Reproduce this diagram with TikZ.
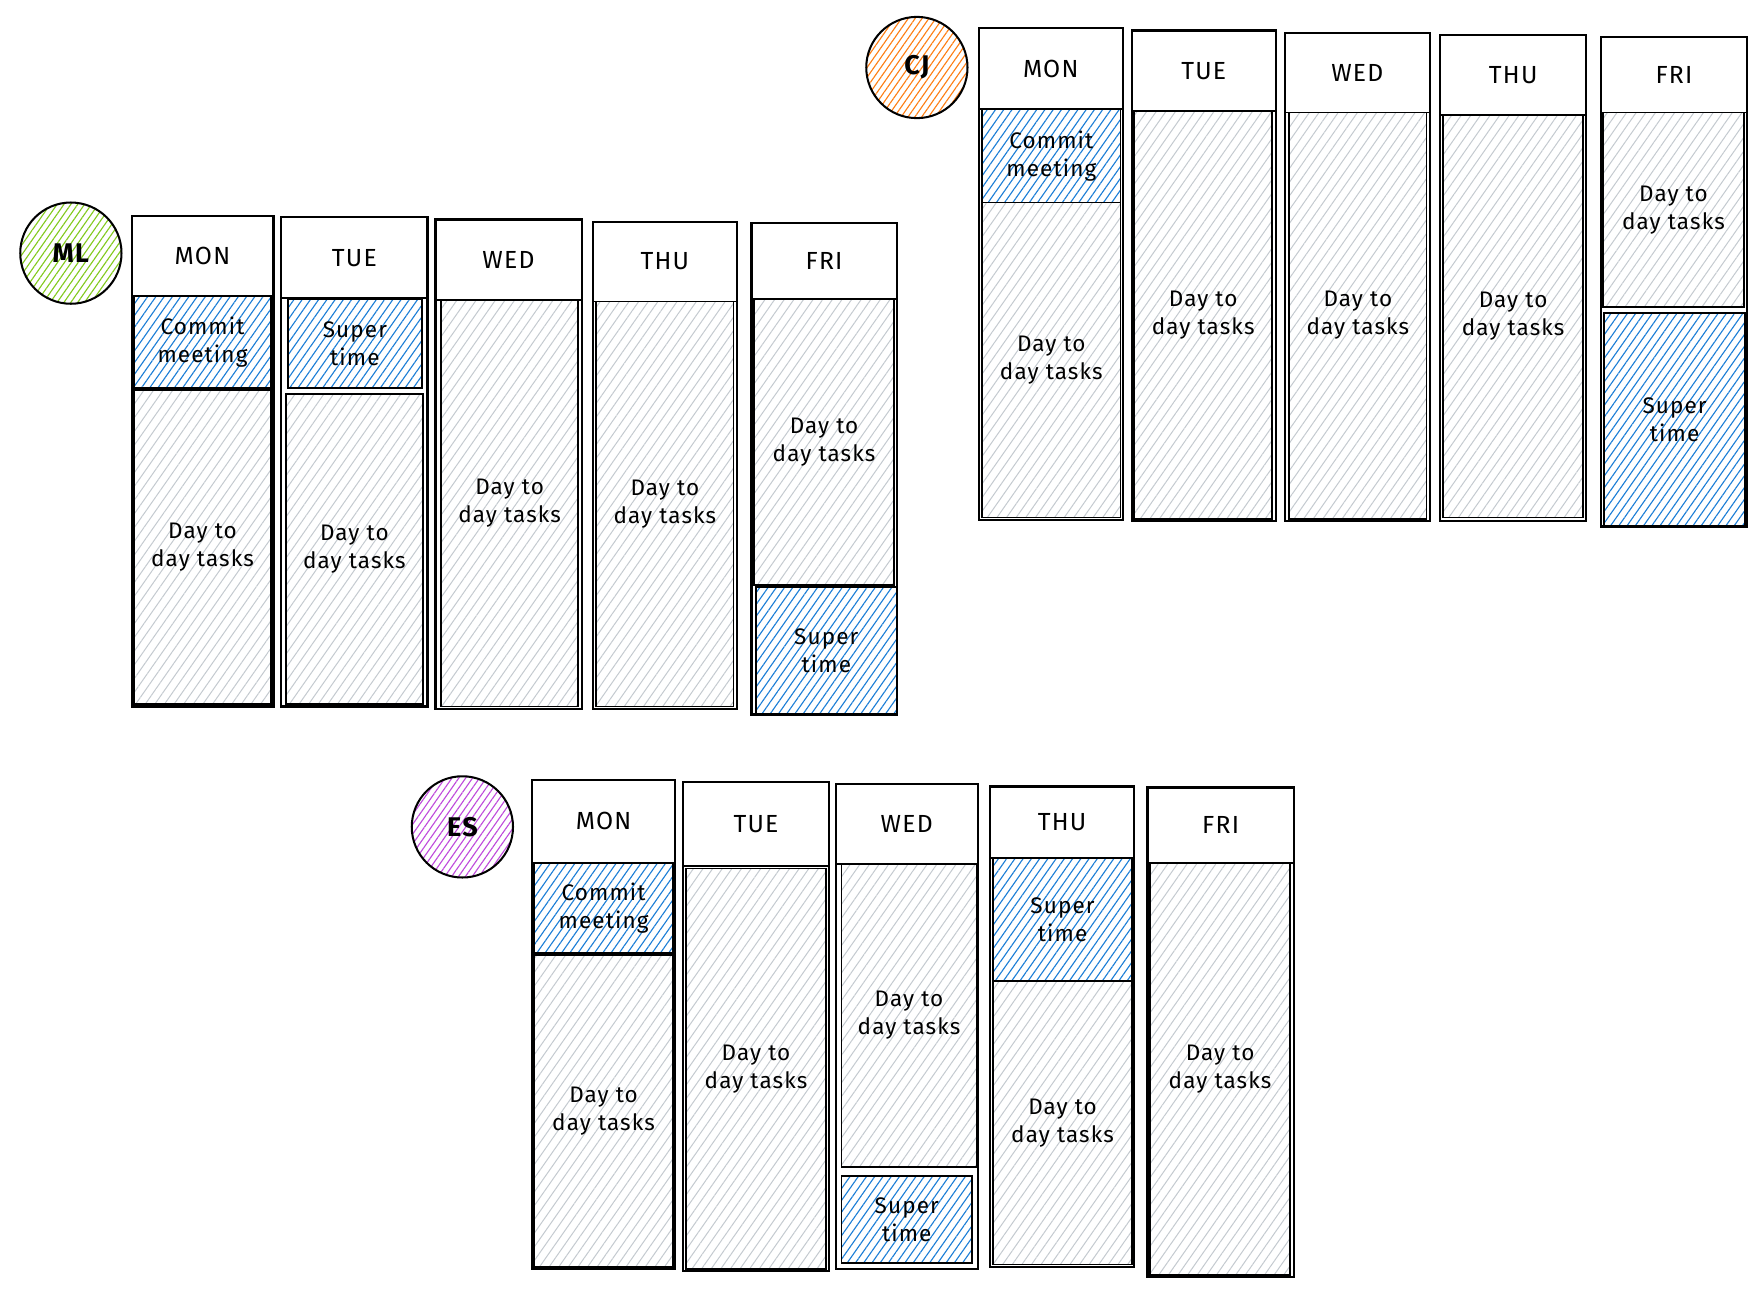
\documentclass[tikz,border=0pt]{standalone}
\usepackage{fontspec}
\setmainfont{Fira Sans}[LetterSpace=5]
\usetikzlibrary{patterns.meta}
\definecolor{hblue}{HTML}{1C7ED6}
\definecolor{hgray}{HTML}{C4CAD0}
\definecolor{hgreen}{HTML}{82C91E}
\definecolor{horange}{HTML}{FD7E14}
\definecolor{hpurple}{HTML}{BE4BDB}
\tikzset{
 cellbase/.style={draw=black, line width=1.6pt, inner sep=0pt, align=center, font=\fontsize{20}{25}\selectfont},
 graycell/.style={cellbase, pattern={Lines[angle=55,distance=7pt,line width=0.9pt]}, pattern color=hgray},
 bluecell/.style={cellbase, pattern={Lines[angle=55,distance=6pt,line width=1pt]}, pattern color=hblue},
 headcell/.style={cellbase, fill=white, font=\fontsize{22}{25}\selectfont},
 framecell/.style={draw=black, line width=2pt, inner sep=0pt},
 person/.style={circle, draw=black, line width=1.8pt, font=\fontsize{24}{28}\selectfont\bfseries, minimum size=90pt, inner sep=0pt},
}
\newcommand\cellbox[7]{\node[#6, minimum width={(#4-#2)*1pt}, minimum height={(#5-#3)*1pt}] (#1) at ({(#2+#4)/2},{(#3+#5)/2}) {#7};}
\newcommand\dtt{Day to\\day tasks}
\newcommand\sut{Super\\time}
\newcommand\cmt{Commit\\meeting}
\begin{document}
\begin{tikzpicture}[x=1pt,y=-1pt]
\useasboundingbox (0,0) rectangle (1568,1152);
% ---------- ML ----------
\node[person, pattern={Lines[angle=55,distance=5pt,line width=1pt]}, pattern color=hgreen] (ml) at (63,225) {ML};
\cellbox{mlMonH}{117}{192}{243}{263}{headcell}{MON}
\cellbox{mlMonA}{119}{263}{241}{345}{bluecell}{\cmt}
\cellbox{mlMonB}{119}{347}{241}{626}{graycell}{\dtt}
\cellbox{mlMonF}{117}{192}{243}{628}{framecell}{}
\cellbox{mlTueH}{250}{193}{380}{265}{headcell}{TUE}
\cellbox{mlTueA}{256}{266}{375}{345}{bluecell}{\sut}
\cellbox{mlTueB}{254}{350}{376}{626}{graycell}{\dtt}
\cellbox{mlTueF}{250}{193}{380}{628}{framecell}{}
\cellbox{mlWedH}{387}{195}{517}{267}{headcell}{WED}
\cellbox{mlWedB}{392}{267}{514}{628}{graycell}{\dtt}
\cellbox{mlWedF}{387}{195}{517}{630}{framecell}{}
\cellbox{mlThuH}{527}{197}{655}{268}{headcell}{THU}
\cellbox{mlThuB}{530}{268}{652}{628}{graycell}{\dtt}
\cellbox{mlThuF}{527}{197}{655}{630}{framecell}{}
\cellbox{mlFriH}{668}{198}{797}{266}{headcell}{FRI}
\cellbox{mlFriA}{670}{266}{795}{520}{graycell}{\dtt}
\cellbox{mlFriB}{672}{522}{797}{635}{bluecell}{\sut}
\cellbox{mlFriF}{668}{198}{797}{635}{framecell}{}
% ---------- CJ ----------
\node[person, pattern={Lines[angle=55,distance=5pt,line width=1pt]}, pattern color=horange] (cj) at (815,60) {CJ};
\cellbox{cjMonH}{870}{25}{998}{97}{headcell}{MON}
\cellbox{cjMonA}{873}{97}{996}{180}{bluecell}{\cmt}
\cellbox{cjMonB}{873}{180}{996}{460}{graycell}{\dtt}
\cellbox{cjMonF}{870}{25}{998}{462}{framecell}{}
\cellbox{cjTueH}{1006}{27}{1134}{99}{headcell}{TUE}
\cellbox{cjTueB}{1008}{99}{1131}{461}{graycell}{\dtt}
\cellbox{cjTueF}{1006}{27}{1134}{463}{framecell}{}
\cellbox{cjWedH}{1142}{29}{1271}{100}{headcell}{WED}
\cellbox{cjWedB}{1146}{100}{1268}{461}{graycell}{\dtt}
\cellbox{cjWedF}{1142}{29}{1271}{463}{framecell}{}
\cellbox{cjThuH}{1280}{31}{1410}{102}{headcell}{THU}
\cellbox{cjThuB}{1283}{102}{1407}{460}{graycell}{\dtt}
\cellbox{cjThuF}{1280}{31}{1410}{463}{framecell}{}
\cellbox{cjFriH}{1423}{33}{1553}{100}{headcell}{FRI}
\cellbox{cjFriA}{1425}{100}{1550}{273}{graycell}{\dtt}
\cellbox{cjFriB}{1426}{278}{1551}{468}{bluecell}{\sut}
\cellbox{cjFriF}{1423}{33}{1553}{468}{framecell}{}
% ---------- ES ----------
\node[person, pattern={Lines[angle=55,distance=5pt,line width=1pt]}, pattern color=hpurple] (es) at (411,735) {ES};
\cellbox{esMonH}{473}{693}{600}{767}{headcell}{MON}
\cellbox{esMonA}{475}{767}{598}{847}{bluecell}{\cmt}
\cellbox{esMonB}{475}{849}{598}{1126}{graycell}{\dtt}
\cellbox{esMonF}{473}{693}{600}{1128}{framecell}{}
\cellbox{esTueH}{607}{695}{737}{770}{headcell}{TUE}
\cellbox{esTueB}{610}{772}{734}{1128}{graycell}{\dtt}
\cellbox{esTueF}{607}{695}{737}{1130}{framecell}{}
\cellbox{esWedH}{743}{697}{869}{768}{headcell}{WED}
\cellbox{esWedA}{748}{768}{868}{1037}{graycell}{\dtt}
\cellbox{esWedB}{748}{1045}{864}{1123}{bluecell}{\sut}
\cellbox{esWedF}{743}{697}{869}{1128}{framecell}{}
\cellbox{esThuH}{880}{699}{1008}{763}{headcell}{THU}
\cellbox{esThuA}{883}{763}{1006}{872}{bluecell}{\sut}
\cellbox{esThuB}{883}{872}{1006}{1124}{graycell}{\dtt}
\cellbox{esThuF}{880}{699}{1008}{1126}{framecell}{}
\cellbox{esFriH}{1020}{700}{1150}{767}{headcell}{FRI}
\cellbox{esFriB}{1022}{767}{1147}{1133}{graycell}{\dtt}
\cellbox{esFriF}{1020}{700}{1150}{1135}{framecell}{}
\end{tikzpicture}
\end{document}
